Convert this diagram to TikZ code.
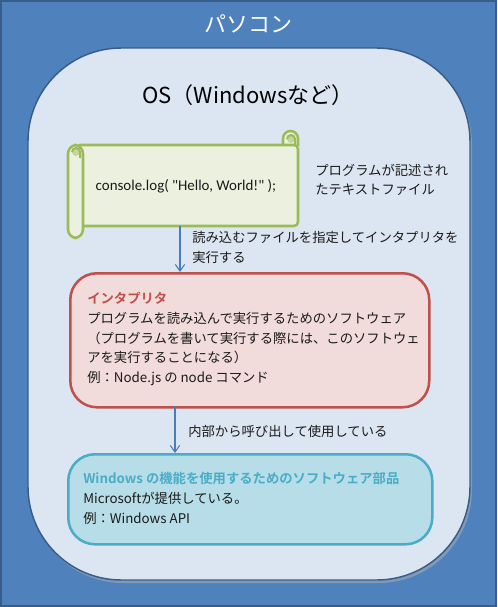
\documentclass[tikz,border=0pt]{standalone}
\usepackage{fontspec}
\setmainfont{Noto Sans CJK JP}[BoldFont={Noto Sans CJK JP Bold}]
\newfontfamily\codefont{Carlito}
\usetikzlibrary{arrows.meta}
\definecolor{outerblue}{HTML}{4F81BD}
\definecolor{darkblue}{HTML}{385D8A}
\definecolor{osfill}{HTML}{DCE6F2}
\definecolor{scrollfill}{HTML}{EBF1DE}
\definecolor{scrollline}{HTML}{9BBB59}
\definecolor{curlfill}{HTML}{C3D69B}
\definecolor{redfill}{HTML}{F2DCDB}
\definecolor{redline}{HTML}{C0504D}
\definecolor{bluefill}{HTML}{B7DEE8}
\definecolor{blueline}{HTML}{4BACC6}
\definecolor{arrowblue}{HTML}{4A7EBB}
\definecolor{textgray}{HTML}{1A1A1A}
\tikzset{
  scrollstyle/.style={draw=scrollline, fill=scrollfill, line width=1.9pt},
  boxtext/.style={inner sep=0pt, anchor=north west, align=left, text=textgray,
    font=\fontsize{10}{14.8}\selectfont},
  conn/.style={draw=arrowblue, line width=0.8pt, -{Straight Barb[length=5pt,width=7pt]}},
}
\begin{document}
\begin{tikzpicture}[x=0.75pt, y=-0.75pt]
\useasboundingbox (0,0) rectangle (497,607);
% outer
\draw[fill=outerblue, draw=darkblue, line width=1.5pt] (1,1) rectangle (496,606);
\node[text=white, font=\fontsize{16.5}{18}\selectfont] (pc) at (248,24) {パソコン};
% OS
\fill[black!30, opacity=0.5, rounded corners=70] (30,51) rectangle (472,583);
\draw[fill=osfill, draw=darkblue, line width=1.1pt, rounded corners=70] (28,48) rectangle (470,580);
\node[text=black, font=\fontsize{16.5}{18}\selectfont] (os) at (248,95) {OS（Windowsなど）};
% scroll
\draw[scrollstyle] (283,146) -- (283,138.5) arc[start angle=180, end angle=360, radius=7.5] -- (298,146);
\draw[scrollstyle, rounded corners=3] (76,145) rectangle (298,226);
\fill[curlfill] (291,139) circle[radius=4];
\draw[scrollline, line width=1.5pt] (287,139) arc[start angle=180, end angle=360, radius=4] -- (295,146);
\draw[scrollstyle, rounded corners=6.5] (68,145) rectangle (83,238);
\fill[curlfill] (76,152) circle[radius=4];
\draw[scrollline, line width=1.5pt] (72,152) arc[start angle=180, end angle=360, radius=4] -- (80,158);
\coordinate (scrollbot) at (180,226);
\node[text=textgray, font=\codefont\fontsize{11.2}{12}\selectfont] (code) at (186,186) {console.log( "Hello, World!" );};
\node[boxtext, anchor=west] (codelabel) at (315,180) {プログラムが記述され\\たテキストファイル};
% red box
\node[draw=redline, fill=redfill, line width=1.9pt, rounded corners=20, minimum width=359*0.75pt, minimum height=134*0.75pt, anchor=north west, inner sep=0pt] (interp) at (69,272) {};
\node[boxtext] (interptext) at (87,292) {\textcolor{redline}{\bfseries インタプリタ}\\プログラムを読み込んで実行するためのソフトウェア\\（プログラムを書いて実行する際には、このソフトウェ\\アを実行することになる）\\例：Node.js の node コマンド};
% blue box
\node[draw=blueline, fill=bluefill, line width=1.9pt, rounded corners=20, minimum width=364*0.75pt, minimum height=90*0.75pt, anchor=north west, inner sep=0pt] (winapi) at (67,453) {};
\node[boxtext] (wintext) at (83,472) {\textcolor{blueline}{\bfseries Windows の機能を使用するためのソフトウェア部品}\\Microsoftが提供している。\\例：Windows API};
% arrows
\draw[conn] (scrollbot) -- (scrollbot |- interp.north);
\node[boxtext] (arrow1label) at (192,231) {読み込むファイルを指定してインタプリタを\\実行する};
\coordinate (a2s) at (175,406);
\draw[conn] (a2s) -- (a2s |- winapi.north);
\node[boxtext, anchor=west] (arrow2label) at (188,431) {内部から呼び出して使用している};
\end{tikzpicture}
\end{document}
